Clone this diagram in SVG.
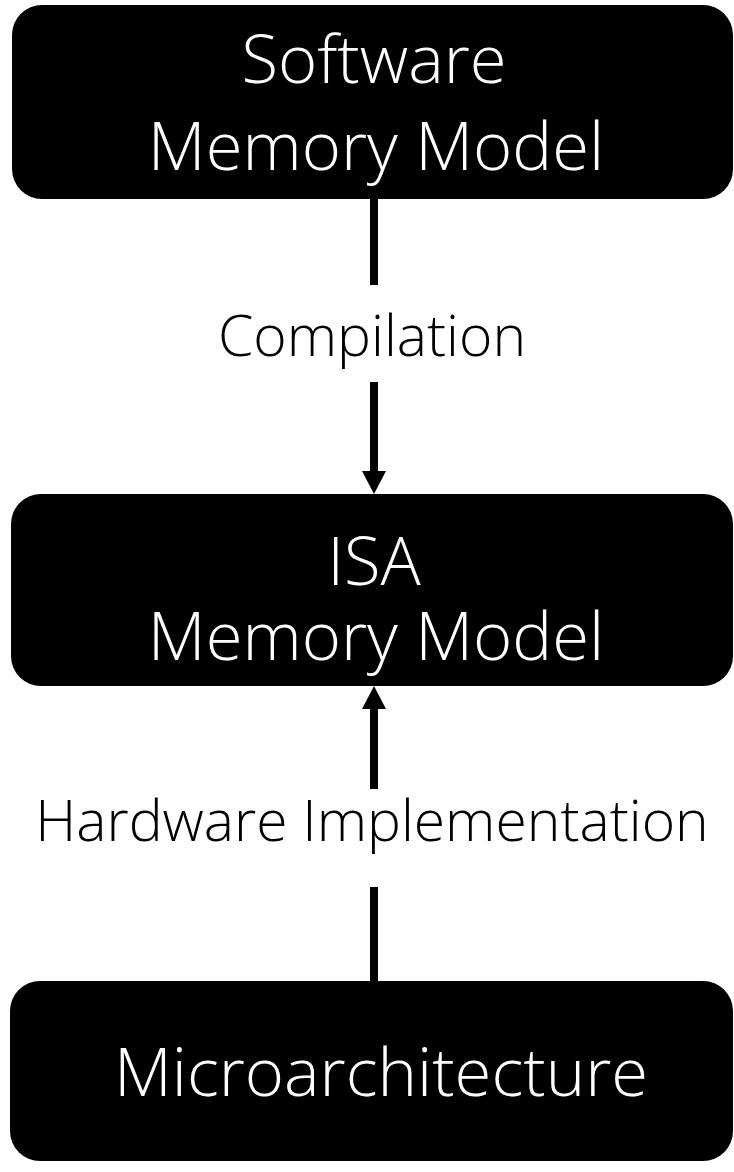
<svg xmlns="http://www.w3.org/2000/svg" width="734" height="1172" viewBox="0 0 734 1172">
<style>
.box{fill:#000}
.t{font-family:"Open Sans","Liberation Sans",sans-serif;font-weight:300;font-size:67px;text-anchor:middle}
.lb{font-size:57px}
.w{fill:#fff}
.k{fill:#000}
.ln{stroke:#000;stroke-width:8;fill:none}
</style>
<defs>
<marker id="ah" viewBox="0 0 23 24" refX="0" refY="12" markerWidth="23" markerHeight="24" markerUnits="userSpaceOnUse" orient="auto">
<path d="M0,0 L23,12 L0,24 Z" fill="#000"/>
</marker>
</defs>
<g id="connectors">
<line class="ln" x1="374" y1="199" x2="374" y2="285"/>
<line class="ln" x1="374" y1="382" x2="374" y2="471" marker-end="url(#ah)"/>
<line class="ln" x1="374" y1="789" x2="374" y2="709" marker-end="url(#ah)"/>
<line class="ln" x1="374" y1="887" x2="374" y2="982"/>
<text class="t lb k" x="372" y="356">Compilation</text>
<text class="t lb k" x="372" y="841">Hardware Implementation</text>
</g>
<g id="software">
<rect class="box" x="12" y="5" width="721" height="194" rx="30"/>
<text class="t w" x="374" y="83">Software</text>
<text class="t w" x="376" y="170">Memory Model</text>
</g>
<g id="isa">
<rect class="box" x="11" y="494" width="722" height="192" rx="30"/>
<text class="t w" x="374" y="585">ISA</text>
<text class="t w" x="376" y="660">Memory Model</text>
</g>
<g id="micro">
<rect class="box" x="10" y="981" width="723" height="180" rx="30"/>
<text class="t w" x="381" y="1096">Microarchitecture</text>
</g>
</svg>
